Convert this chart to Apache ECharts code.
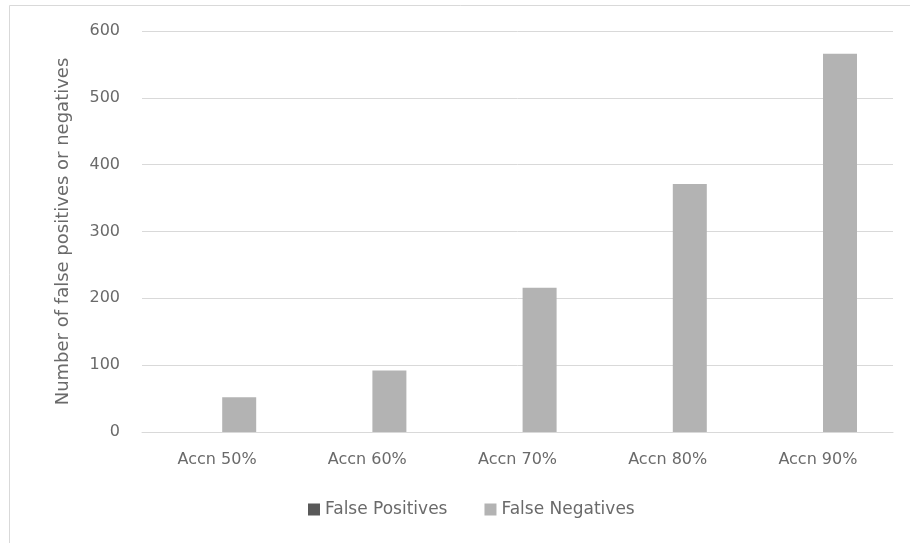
<!DOCTYPE html>
<html>
<head>
<meta charset="utf-8">
<script src="https://cdn.jsdelivr.net/npm/echarts@6/dist/echarts.min.js"></script>
<style>
  html, body { margin: 0; padding: 0; background: #ffffff; }
  #chart { width: 910px; height: 543px; }
</style>
</head>
<body>
<div id="chart"></div>
<script>
// Accuracy thresholds along the x axis
const categories = ['Accn 50%', 'Accn 60%', 'Accn 70%', 'Accn 80%', 'Accn 90%'];
// Counts per threshold
const falsePositives = [0, 0, 0, 0, 0];
const falseNegatives = [52, 92, 216, 371, 566];
// Value axis ticks
const yTicks = { min: 0, max: 600, interval: 100 };

const textColor = '#6a6a6a';
const fontFamily = '"DejaVu Sans", sans-serif';

const chart = echarts.init(document.getElementById('chart'), null, { renderer: 'canvas' });
chart.setOption({
  backgroundColor: '#ffffff',
  animation: false,
  textStyle: { fontFamily: fontFamily, color: textColor },
  graphic: [{
    type: 'rect',
    shape: { x: 9.5, y: 5.5, width: 920, height: 560 },
    style: { fill: 'none', stroke: '#d9d9d9', lineWidth: 1 },
    silent: true,
    z: -1
  }],
  grid: { left: 142, right: 17, top: 31, bottom: 111 },
  legend: {
    bottom: 20,
    left: 303,
    itemWidth: 12,
    itemHeight: 12,
    itemGap: 37,
    icon: 'rect',
    textStyle: { color: textColor, fontSize: 17, fontFamily: fontFamily },
    data: ['False Positives', 'False Negatives']
  },
  xAxis: {
    type: 'category',
    data: categories,
    axisLine: { show: true, lineStyle: { color: '#d9d9d9', width: 1 } },
    axisTick: { show: false },
    axisLabel: { color: textColor, fontSize: 16, margin: 20, fontFamily: fontFamily }
  },
  yAxis: {
    type: 'value',
    min: yTicks.min,
    max: yTicks.max,
    interval: yTicks.interval,
    name: 'Number of false positives or negatives',
    nameLocation: 'middle',
    nameGap: 70,
    nameTextStyle: { color: textColor, fontSize: 18, fontFamily: fontFamily },
    axisLine: { show: false },
    axisTick: { show: false },
    axisLabel: { color: textColor, fontSize: 16, margin: 22, fontFamily: fontFamily },
    splitLine: { lineStyle: { color: '#d9d9d9', width: 1 } }
  },
  series: [
    {
      name: 'False Positives',
      type: 'bar',
      data: falsePositives,
      barWidth: 34,
      barGap: '30%',
      itemStyle: { color: '#595959' }
    },
    {
      name: 'False Negatives',
      type: 'bar',
      data: falseNegatives,
      barWidth: 34,
      barGap: '30%',
      itemStyle: { color: '#b3b3b3' }
    }
  ]
});
</script>
</body>
</html>
